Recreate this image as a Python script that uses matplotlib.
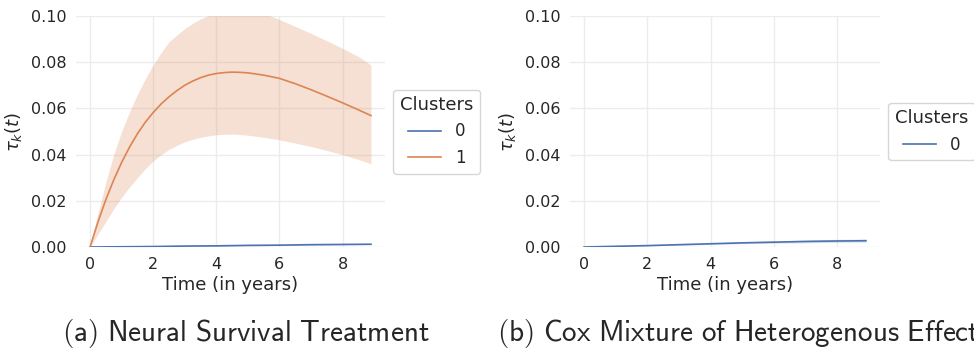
import matplotlib
matplotlib.use("Agg")
import matplotlib.pyplot as plt

# Treatment effect per cluster over time (years)
times_nst = [0, 0.25, 0.5, 0.75, 1, 1.25, 1.5, 1.75, 2, 2.25, 2.5, 2.75, 3, 3.25, 3.5, 3.75,
             4, 4.25, 4.5, 4.75, 5, 5.5, 6, 6.5, 7, 7.5, 8, 8.5, 8.9]
nst_c1_mean = [0, 0.0108, 0.0205, 0.0290, 0.0366, 0.0432, 0.0490, 0.0540, 0.0582, 0.0619,
               0.0650, 0.0677, 0.0700, 0.0718, 0.0733, 0.0744, 0.0751, 0.0755, 0.0757,
               0.0756, 0.0754, 0.0744, 0.0730, 0.0707, 0.0681, 0.0653, 0.0624, 0.0594, 0.0569]
nst_c1_low = [0, 0.0055, 0.0110, 0.0165, 0.0215, 0.0260, 0.0300, 0.0338, 0.0372, 0.0400,
              0.0422, 0.0440, 0.0455, 0.0466, 0.0475, 0.0481, 0.0486, 0.0488, 0.0489,
              0.0487, 0.0484, 0.0475, 0.0464, 0.0450, 0.0435, 0.0418, 0.0400, 0.0379, 0.0360]
nst_c1_high = [0, 0.0145, 0.0280, 0.0400, 0.0500, 0.0585, 0.0660, 0.0728, 0.0788, 0.0841,
               0.0888, 0.0918, 0.0945, 0.0968, 0.0987, 0.1002, 0.1014, 0.1023, 0.1029,
               0.1031, 0.1030, 0.1012, 0.0985, 0.0955, 0.0925, 0.0893, 0.0860, 0.0825, 0.0788]

times_coarse = [0, 1, 2, 3, 4, 5, 6, 7, 8, 8.9]
nst_c0_mean = [0, 0.0001, 0.0002, 0.0004, 0.0005, 0.0007, 0.0008, 0.0010, 0.0011, 0.0012]
nst_c0_low = [0, 0.0000, 0.0001, 0.0002, 0.0003, 0.0005, 0.0006, 0.0008, 0.0009, 0.0010]
nst_c0_high = [0, 0.0002, 0.0003, 0.0005, 0.0007, 0.0009, 0.0010, 0.0012, 0.0013, 0.0014]

cmhe_c0_mean = [0, 0.0003, 0.0006, 0.0010, 0.0014, 0.0018, 0.0021, 0.0024, 0.0026, 0.0027]
cmhe_c0_low = [0, 0.0002, 0.0005, 0.0008, 0.0011, 0.0014, 0.0016, 0.0018, 0.0020, 0.0021]
cmhe_c0_high = [0, 0.0004, 0.0007, 0.0012, 0.0017, 0.0022, 0.0026, 0.0030, 0.0033, 0.0035]

BLUE = "#4c72b0"
ORANGE = "#dd8452"
TEXT = "#262626"

plt.rcParams["font.family"] = "DejaVu Sans"
plt.rcParams["text.color"] = TEXT
plt.rcParams["axes.labelcolor"] = TEXT
plt.rcParams["xtick.color"] = TEXT
plt.rcParams["ytick.color"] = TEXT

fig = plt.figure(figsize=(9.74, 3.54), dpi=100)
ax_a = fig.add_axes([76 / 974, 107 / 354, 309 / 974, 231 / 354])
ax_b = fig.add_axes([570 / 974, 107 / 354, 310 / 974, 231 / 354])


def style_axes(ax):
    for s in ax.spines.values():
        s.set_visible(False)
    ax.grid(True, color="#ececec", linewidth=1)
    ax.set_axisbelow(True)
    ax.tick_params(length=0, labelsize=11.5, pad=7)
    ax.set_ylim(0, 0.1)
    ax.set_yticks([0, 0.02, 0.04, 0.06, 0.08, 0.1])
    ax.set_yticklabels([f"{v:.2f}" for v in [0, 0.02, 0.04, 0.06, 0.08, 0.1]])
    ax.set_xticks([0, 2, 4, 6, 8])
    ax.set_xlim(-0.445, 9.345)
    ax.set_xlabel("Time (in years)", fontsize=13, labelpad=3)
    ax.set_ylabel(r"$\tau_k(t)$", fontsize=13, labelpad=5)


# (a) Neural Survival Treatment
ax_a.fill_between(times_coarse, nst_c0_low, nst_c0_high, color=BLUE, alpha=0.2, lw=0)
ax_a.plot(times_coarse, nst_c0_mean, color=BLUE, lw=1.2, label="0")
ax_a.fill_between(times_nst, nst_c1_low, nst_c1_high, color=ORANGE, alpha=0.25, lw=0)
ax_a.plot(times_nst, nst_c1_mean, color=ORANGE, lw=1.2, label="1")
style_axes(ax_a)

# (b) Cox Mixture of Heterogenous Effects
ax_b.fill_between(times_coarse, cmhe_c0_low, cmhe_c0_high, color=BLUE, alpha=0.2, lw=0)
ax_b.plot(times_coarse, cmhe_c0_mean, color=BLUE, lw=1.2, label="0")
style_axes(ax_b)

for ax in (ax_a, ax_b):
    leg = ax.legend(title="Clusters", loc="center left", bbox_to_anchor=(1, 0.5),
                    fontsize=12, title_fontsize=13, frameon=True)
    leg.get_frame().set_edgecolor("#cccccc")

fig.text(62 / 974, 13 / 354, r"$\mathsf{(a)\ Neural\ Survival\ Treatment}$",
         fontsize=21, math_fontfamily="cm", ha="left", va="baseline")
fig.text(497 / 974, 13 / 354, r"$\mathsf{(b)\ Cox\ Mixture\ of\ Heterogenous\ Effects}$",
         fontsize=21, math_fontfamily="cm", ha="left", va="baseline")

fig.savefig("out.png", dpi=100)
